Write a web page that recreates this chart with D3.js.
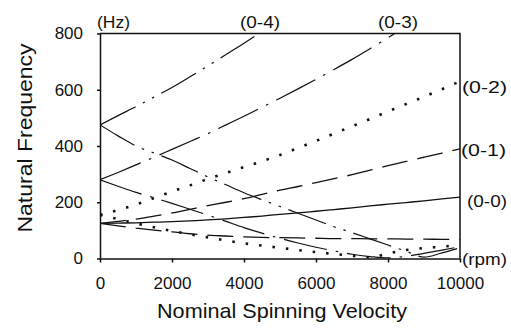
<!DOCTYPE html>
<html>
<head>
<meta charset="utf-8">
<script src="https://cdn.jsdelivr.net/npm/d3@7/dist/d3.min.js"></script>
<style>
  body { margin: 0; background: #fff; }
  text { font-family: "Liberation Sans", Arial, sans-serif; fill: #111; }
</style>
</head>
<body>
<svg width="511" height="328"></svg>
<script>
// Campbell diagram: natural frequency vs spinning velocity
// spinning velocity (rpm)
const rpm = [0, 500, 1000, 1500, 2000, 2500, 3000, 3500, 4000, 4500, 5000,
             5500, 6000, 6500, 7000, 7500, 8000, 8500, 9000, 9500, 10000];

// natural frequencies (Hz), forward (f) and backward (b) branches
const m00  = [125, 126, 127, 129, 131, 134, 137, 141, 146, 151, 157, 162, 168, 174, 180, 187, 193, 199, 205, 212, 218];
const m01f = [125, 132, 140, 151, 162, 175, 188, 200, 213, 228, 243, 256, 270, 284, 298, 314, 330, 345, 360, 375, 390];
const m01b = [125, 116, 108, 101, 95, 88, 83, 80, 77, 75, 74, 73, 72, 71, 71, 70, 70, 69, 69, 68, 68];
const m02f = [155, 172, 192, 215, 238, 260, 283, 304, 325, 346, 368, 393, 418, 444, 470, 496, 523, 549, 575, 602, 630];
const m02b = [155, 140, 125, 111, 98, 86, 75, 64, 54, 46, 38, 30, 23, 16, 10, 3, 18, 30, 37, 42, 48];
const m03f = [280, 306, 333, 360, 388, 416, 444, 475, 506, 538, 570, 603, 637, 672, 708, 746, 785, 825, 865, 905, 945];
const m03b = [280, 257, 235, 216, 196, 175, 154, 132, 110, 90, 72, 55, 40, 27, 15, 7, 2, 8, 18, 30, 42];
const m04f = [475, 508, 540, 574, 608, 646, 685, 725, 765, 807, 850, 893, 936, 980, 1025, 1070, 1115, 1160, 1205, 1250, 1295];
const m04b = [475, 436, 400, 375, 350, 320, 290, 262, 234, 209, 185, 161, 137, 113, 92, 70, 48, 26, 5, 20, 38];

// tick labels
const xTicks = [0, 2000, 4000, 6000, 8000, 10000];
const yTicks = [0, 200, 400, 600, 800];

const svg = d3.select('svg');

// plot area
const plotL = 100, plotR = 460, plotT = 33.5, plotB = 258.5;
const x = d3.scaleLinear().domain([0, 10000]).range([plotL, plotR]);
const y = d3.scaleLinear().domain([0, 800]).range([plotB, plotT]);

// clip so lines stop at the frame
svg.append('clipPath').attr('id', 'plotClip')
  .append('rect')
  .attr('x', plotL).attr('y', plotT)
  .attr('width', plotR - plotL).attr('height', plotB - plotT);

// dash patterns for each mode
const solid = null;
const dashed = '26 10';
const dotted = '2.5 11';
const dashDot = '44 9 2.5 9';
const dashDotDot = '40 8 2.5 8 2.5 8';

const series = [
  { v: m00,  dash: solid,      w: 1.3 },
  { v: m01f, dash: dashed,     w: 1.3 },
  { v: m01b, dash: dashed,     w: 1.3 },
  { v: m02f, dash: dotted,     w: 2.6 },
  { v: m02b, dash: dotted,     w: 2.6 },
  { v: m03f, dash: dashDot,    w: 1.2 },
  { v: m03b, dash: dashDot,    w: 1.2 },
  { v: m04f, dash: dashDotDot, w: 1.2 },
  { v: m04b, dash: dashDotDot, w: 1.2 }
];

const line = d3.line()
  .x((d, i) => x(rpm[i]))
  .y(d => y(d))
  .curve(d3.curveMonotoneX);

const graf = svg.append('g').attr('clip-path', 'url(#plotClip)');
graf.selectAll('path')
  .data(series)
  .enter()
  .append('path')
  .attr('d', d => line(d.v))
  .attr('fill', 'none')
  .attr('stroke', '#111')
  .attr('stroke-width', d => d.w)
  .attr('stroke-dasharray', d => d.dash)
  .attr('stroke-linecap', 'butt');

// axes
svg.append('g')
  .attr('transform', `translate(0,${plotB})`)
  .call(d3.axisBottom(x).tickValues(xTicks).tickFormat(d3.format('d'))
    .tickSize(4).tickSizeOuter(0).tickPadding(14));

svg.append('g')
  .attr('transform', `translate(${plotL},0)`)
  .call(d3.axisLeft(y).tickValues(yTicks).tickSize(3).tickSizeOuter(0).tickPadding(14));

svg.selectAll('.tick text')
  .style('font-size', '17px')
  .style('font-family', '"Liberation Sans", Arial, sans-serif')
  .attr('fill', '#111');
svg.selectAll('.domain, .tick line')
  .attr('stroke', '#111')
  .attr('stroke-width', 1.5);

// top and right frame
svg.append('path')
  .attr('d', `M${plotL},${plotT}H${plotR}V${plotB}`)
  .attr('fill', 'none')
  .attr('stroke', '#111')
  .attr('stroke-width', 1.5);

// mode labels and units
const labels = [
  { t: '(Hz)',  x: 97,  y: 28,  len: 33 },
  { t: '(0-4)', x: 240, y: 28,  len: 40 },
  { t: '(0-3)', x: 378, y: 28,  len: 40 },
  { t: '(0-2)', x: 462, y: 93,  len: 45 },
  { t: '(0-1)', x: 461, y: 156, len: 45 },
  { t: '(0-0)', x: 467, y: 207, len: 40 },
  { t: '(rpm)', x: 462, y: 265, len: 45 }
];
svg.selectAll('.lbl')
  .data(labels)
  .enter()
  .append('text')
  .attr('class', 'lbl')
  .attr('x', d => d.x)
  .attr('y', d => d.y)
  .attr('textLength', d => d.len)
  .attr('lengthAdjust', 'spacingAndGlyphs')
  .style('font-size', '17px')
  .text(d => d.t);

// axis titles
svg.append('text')
  .attr('x', 282)
  .attr('y', 318)
  .attr('text-anchor', 'middle')
  .attr('textLength', 250)
  .attr('lengthAdjust', 'spacingAndGlyphs')
  .style('font-size', '21px')
  .text('Nominal Spinning Velocity');

svg.append('text')
  .attr('transform', 'translate(32,138) rotate(-90)')
  .attr('text-anchor', 'middle')
  .attr('textLength', 189)
  .attr('lengthAdjust', 'spacingAndGlyphs')
  .style('font-size', '21px')
  .text('Natural Frequency');
</script>
</body>
</html>
